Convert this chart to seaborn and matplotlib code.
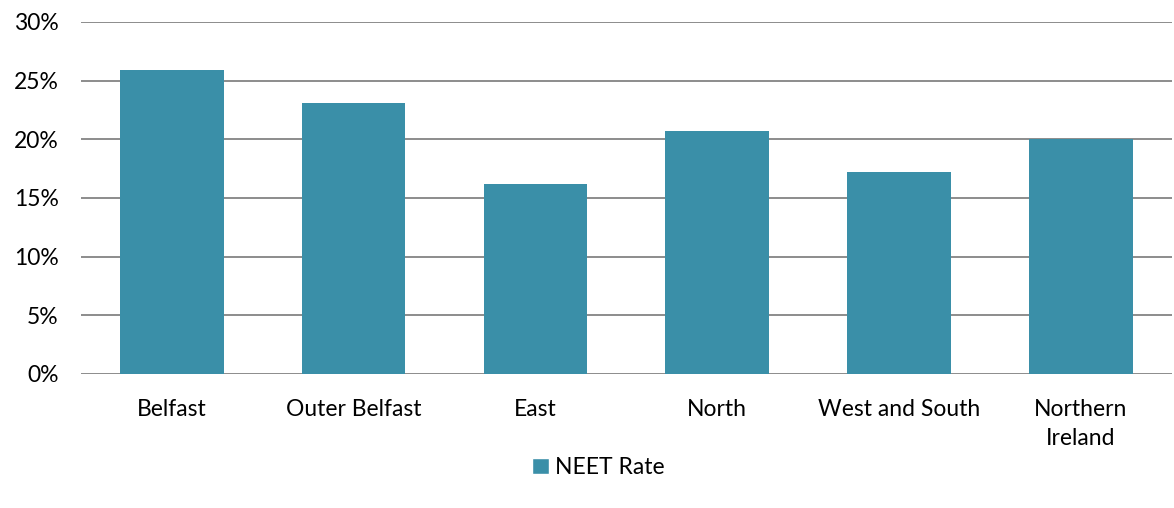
import pandas as pd
import matplotlib.pyplot as plt
import seaborn as sns
from matplotlib.ticker import PercentFormatter, MultipleLocator
from matplotlib.patches import Patch

# Chart data
regions = ['Belfast', 'Outer Belfast', 'East', 'North', 'West and South', 'Northern\nIreland']
neet_rate = [25.9, 23.1, 16.2, 20.7, 17.2, 20.0]
series_name = 'NEET Rate'

df = pd.DataFrame({'Region': regions, 'Rate': neet_rate})

sns.set_theme(style='white')
plt.rcParams['font.family'] = ['Lato', 'DejaVu Sans']
plt.rcParams['text.color'] = 'black'

bar_color = '#3A8FA8'
grid_color = '#8C8C8C'
fs = 16.5

fig = plt.figure(figsize=(11.74, 5.08), dpi=100)
ax = fig.add_axes([0.069, 0.264, 0.929, 0.693])

sns.barplot(data=df, x='Region', y='Rate', color=bar_color, width=0.57,
            saturation=1, linewidth=0, ax=ax, zorder=3)

ax.set_ylim(0, 30)
ax.yaxis.set_major_locator(MultipleLocator(5))
ax.yaxis.set_major_formatter(PercentFormatter(decimals=0))
ax.grid(axis='y', color=grid_color, linewidth=1.4, zorder=0)
ax.set_axisbelow(True)
for s in ax.spines.values():
    s.set_visible(False)
ax.set_xlabel('')
ax.set_ylabel('')
ax.tick_params(axis='both', length=0, labelsize=fs, colors='black')
ax.tick_params(axis='x', pad=18)
ax.tick_params(axis='y', pad=16)
for lbl in ax.get_xticklabels():
    lbl.set_linespacing(1.45)

handles = [Patch(facecolor=bar_color, label=series_name)]
fig.legend(handles=handles, loc='center', bbox_to_anchor=(0.51, 0.08), frameon=False,
           fontsize=fs, handlelength=0.7, handleheight=0.7, handletextpad=0.3)

fig.savefig('out.png', dpi=100)
